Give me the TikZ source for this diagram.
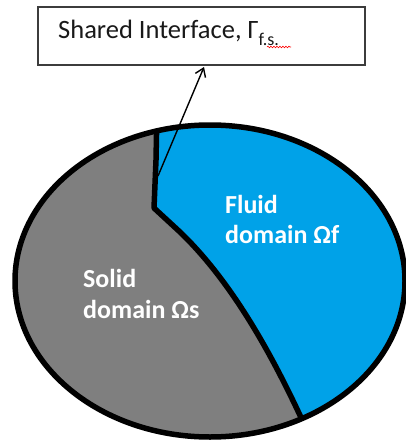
\documentclass[tikz,border=0pt]{standalone}
\usepackage{fontspec}
\setmainfont{Carlito}
\usetikzlibrary{arrows.meta,decorations.pathmorphing}
\definecolor{fluidblue}{RGB}{0,162,232}
\definecolor{solidgray}{RGB}{127,127,127}
\definecolor{boxline}{RGB}{60,60,60}
\tikzset{
  labelbox/.style={draw=boxline, line width=1.4pt, fill=white, minimum width=327pt, minimum height=58pt, inner sep=0pt},
  boxtext/.style={anchor=base west, inner sep=0pt, font=\fontsize{26.5}{30}\selectfont, text=black!90},
  domaintext/.style={anchor=base west, inner sep=0pt, font=\fontsize{26}{30}\selectfont\bfseries, text=white},
  thickline/.style={line width=5.5pt, line join=round},
  pointer/.style={line width=1.4pt, -{Straight Barb[length=8pt,width=11pt,line width=1.4pt]}}
}
\begin{document}
\begin{tikzpicture}[x=1pt,y=-1pt]
\useasboundingbox (0,0) rectangle (406,441);
% domains
\begin{scope}
  \clip (210,281) ellipse [x radius=195pt, y radius=156pt];
  \fill[solidgray] (0,100) rectangle (420,450);
  \fill[fluidblue] (157,110) -- (154,208) -- (180,232)
     .. controls (230,280) and (270,350) .. (304,424) -- (420,450) -- (420,100) -- cycle;
  \draw[thickline] (157,110) -- (156,160) -- (154,208) -- (180,232)
     .. controls (230,280) and (270,350) .. (304,424);
\end{scope}
\draw[thickline] (210,281) ellipse [x radius=195pt, y radius=156pt];
% label box
\node[labelbox] (box) at (201.5,36) {};
\node[boxtext] (boxlabel) at (58,39) {Shared Interface, Γ\raisebox{-0.25em}{\fontsize{18}{20}\selectfont f.s.}};
\draw[red, line width=0.6pt, decorate, decoration={snake, segment length=3pt, amplitude=0.8pt}] (267,47) -- (291,47);
% arrow
\coordinate (astart) at (158,176);
\coordinate (atip) at (204,67);
\draw[pointer] (astart) -- (atip);
% domain labels
\node[domaintext] (fluid1) at (225,213) {Fluid};
\node[domaintext] (fluid2) at (225,243) {domain Ωf};
\node[domaintext] (solid1) at (83,287) {Solid};
\node[domaintext] (solid2) at (83,318) {domain Ωs};
\end{tikzpicture}
\end{document}
